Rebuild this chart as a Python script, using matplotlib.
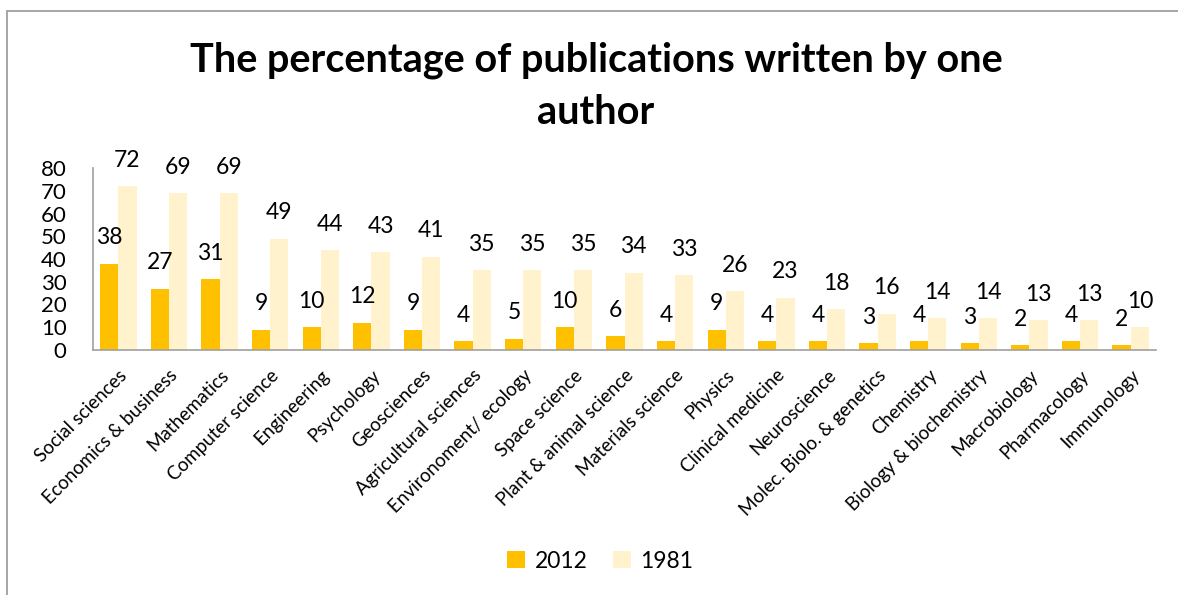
import numpy as np
import matplotlib.pyplot as plt
from matplotlib.lines import Line2D

plt.rcParams['font.family'] = ['Lato', 'DejaVu Sans']

fields = ['Social sciences', 'Economics & business', 'Mathematics',
          'Computer science', 'Engineering', 'Psychology', 'Geosciences',
          'Agricultural sciences', 'Environoment/ ecology', 'Space science',
          'Plant & animal science', 'Materials science', 'Physics',
          'Clinical medicine', 'Neuroscience', 'Molec. Biolo. & genetics',
          'Chemistry', 'Biology & biochemistry', 'Macrobiology',
          'Pharmacology', 'Immunology']
pct_2012 = [38, 27, 31, 9, 10, 12, 9, 4, 5, 10, 6, 4, 9, 4, 4, 3, 4, 3, 2, 4, 2]
pct_1981 = [72, 69, 69, 49, 44, 43, 41, 35, 35, 35, 34, 33, 26, 23, 18, 16,
            14, 14, 13, 13, 10]
years = ['2012', '1981']

W, H = 1178, 595
fig = plt.figure(figsize=(W / 100, H / 100), dpi=100)

# outer chart frame: only the left and top edges fall inside the image
frame = dict(transform=fig.transFigure, color='#A6A6A6', linewidth=1.4)
fig.lines.append(Line2D([7 / W, 7 / W], [-0.01, 1 - 11 / H], **frame))
fig.lines.append(Line2D([7 / W, 1.01], [1 - 11 / H, 1 - 11 / H], **frame))

ax = fig.add_axes([93 / W, (H - 350) / H, (1156 - 93) / W, (350 - 168) / H])

x = np.arange(len(fields))
bw = 0.36
gold = '#FFC000'
cream = '#FFF2CC'
b1 = ax.bar(x - bw / 2, pct_2012, bw, color=gold, label=years[0])
b2 = ax.bar(x + bw / 2, pct_1981, bw, color=cream, label=years[1])

for bars, vals in ((b1, pct_2012), (b2, pct_1981)):
    for r, v in zip(bars, vals):
        ax.annotate(str(v), (r.get_x() + r.get_width() / 2, v),
                    xytext=(0, 11), textcoords='offset points',
                    ha='center', va='bottom', fontsize=16.5)

ax.set_xlim(-0.5, len(fields) - 0.5)
ax.set_ylim(0, 80)
ax.set_yticks(range(0, 81, 10))
ax.tick_params(axis='y', length=0, labelsize=16, pad=19)
ax.tick_params(axis='x', length=0, labelsize=13.5, pad=12)
ax.set_xticks(x)
ax.set_xticklabels(fields, rotation=45, ha='right', rotation_mode='anchor')

for s in ('top', 'right'):
    ax.spines[s].set_visible(False)
for s in ('left', 'bottom'):
    ax.spines[s].set_color('#A0A0A0')
    ax.spines[s].set_linewidth(1.2)

fig.text(596 / W, 1 - 60 / H, 'The percentage of publications written by one',
         ha='center', va='center', fontsize=28.5, fontweight='bold')
fig.text(596 / W, 1 - 112 / H, 'author',
         ha='center', va='center', fontsize=28.5, fontweight='bold')

fig.legend(loc='center', bbox_to_anchor=(600 / W, 1 - 561 / H), ncol=2,
           frameon=False, fontsize=16.5, handlelength=0.8, handleheight=0.8,
           handletextpad=0.4, columnspacing=1.1)

fig.savefig('out.png', dpi=100)
